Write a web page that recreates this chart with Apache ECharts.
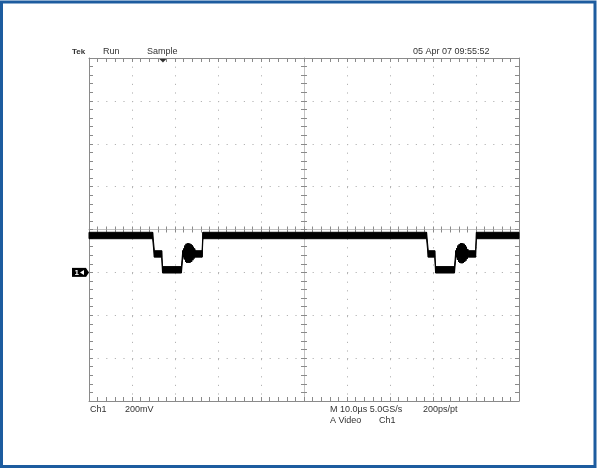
<!DOCTYPE html>
<html><head><meta charset="utf-8">
<script src="https://cdn.jsdelivr.net/npm/echarts@6/dist/echarts.min.js"></script>
<style>html,body{margin:0;padding:0;background:#fff}#c{width:597px;height:468px}</style>
</head><body><div id="c"></div>
<script>
// ---- data (time in microseconds, level in mV relative to Ch1 ground) ----
const timeUs = [
  0, 14.8, 15.2, 16.9, 17.1, 21.5, 21.8,
  21.90, 22.04, 22.18, 22.32, 22.46, 22.60, 22.74, 22.88, 23.02, 23.16, 23.30, 23.44, 23.58, 23.72, 23.86, 24.00, 24.14, 24.28, 24.42, 24.56, 24.70,
  24.8, 26.3, 26.5,
  78.5, 78.9, 80.4, 80.6, 85.0, 85.3,
  85.40, 85.54, 85.68, 85.82, 85.96, 86.10, 86.24, 86.38, 86.52, 86.66, 86.80, 86.94, 87.08, 87.22, 87.36, 87.50, 87.64, 87.78, 87.92, 88.06, 88.20,
  89.9, 90.1, 100
];
const levelMV = [
  172, 172, 86, 86, 12, 12, 86,
  86, 96, 76, 110, 65, 118, 60, 120, 60, 120, 60, 119, 62, 116, 64, 111, 72, 104, 80, 96, 86,
  86, 86, 172,
  172, 86, 86, 12, 12, 86,
  86, 98, 74, 110, 64, 116, 60, 120, 58, 122, 58, 120, 60, 118, 64, 112, 70, 104, 78, 94, 86,
  86, 172, 172
];
const headerLabels = ['Tek', 'Run', 'Sample', '05 Apr 07 09:55:52'];
const footerLabels = ['Ch1', '200mV', 'M 10.0\u00b5s 5.0GS/s', '200ps/pt', 'A Video', 'Ch1'];
const groundMV = 0;
const triggerUs = 17.2;
const xMinUs = 0, xMaxUs = 100, xStepUs = 10;
const yMinMV = -600, yMaxMV = 1000, yStepMV = 200;
const divX = [-5, 5], divY = [-4, 4];

// ---- chart ----
const traceHalf = 15; // visual trace thickness (mV)
const segments = [];
for (let i = 0; i < timeUs.length - 1; i++) {
  segments.push([timeUs[i], levelMV[i], timeUs[i + 1], levelMV[i + 1]]);
}

const chart = echarts.init(document.getElementById('c'), null, {renderer: 'canvas'});
const gridRect = {left: 89, top: 58, width: 430, height: 343};
const borderCol = '#8a8a8a';
const gridDot = {color: '#b4b4b4', width: 1, type: [1.2, 7.4]};

function borderX(pos, split) {
  return {
    type: 'value', gridIndex: 0, position: pos, min: xMinUs, max: xMaxUs, interval: xStepUs,
    axisLine: {show: true, onZero: false, lineStyle: {color: borderCol, width: 1}},
    axisTick: {show: true, inside: true, length: 4, lineStyle: {color: borderCol}},
    minorTick: {show: true, splitNumber: 5, length: 4, lineStyle: {color: borderCol}},
    axisLabel: {show: false}, splitLine: {show: split, lineStyle: gridDot}
  };
}
function borderY(pos, split) {
  return {
    type: 'value', gridIndex: 0, position: pos, min: yMinMV, max: yMaxMV, interval: yStepMV,
    axisLine: {show: true, onZero: false, lineStyle: {color: borderCol, width: 1}},
    axisTick: {show: true, inside: true, length: 4, lineStyle: {color: borderCol}},
    minorTick: {show: true, splitNumber: 5, length: 4, lineStyle: {color: borderCol}},
    axisLabel: {show: false}, splitLine: {show: split, lineStyle: gridDot}
  };
}
function centerX(g, inside) {
  return {
    type: 'value', gridIndex: g, min: divX[0], max: divX[1], interval: 0.2,
    axisLine: {show: true, onZero: true, lineStyle: {color: '#c4c4c4', width: 1}},
    axisTick: {show: true, inside: inside, length: 3, lineStyle: {color: borderCol}},
    axisLabel: {show: false}, splitLine: {show: false}
  };
}
function centerY(g, inside) {
  return {
    type: 'value', gridIndex: g, min: divY[0], max: divY[1], interval: 0.2,
    axisLine: {show: true, onZero: true, lineStyle: {color: '#c4c4c4', width: 1}},
    axisTick: {show: true, inside: inside, length: 3, lineStyle: {color: borderCol}},
    axisLabel: {show: false}, splitLine: {show: false}
  };
}

chart.setOption({
  animation: false,
  backgroundColor: '#ffffff',
  grid: [Object.assign({}, gridRect), Object.assign({}, gridRect), Object.assign({}, gridRect)],
  xAxis: [borderX('bottom', true), borderX('top', false), centerX(1, false), centerX(2, true)],
  yAxis: [borderY('left', true), borderY('right', false), centerY(1, false), centerY(2, true)],
  series: [{
    type: 'custom', coordinateSystem: 'cartesian2d', xAxisIndex: 0, yAxisIndex: 0,
    data: segments, encode: {x: [0, 2], y: [1, 3]}, z: 5,
    renderItem: function (params, api) {
      const t0 = api.value(0), v0 = api.value(1), t1 = api.value(2), v1 = api.value(3);
      const pts = [
        api.coord([t0, v0 - traceHalf]), api.coord([t1, v1 - traceHalf]),
        api.coord([t1, v1 + traceHalf]), api.coord([t0, v0 + traceHalf])
      ];
      return {type: 'polygon', shape: {points: pts}, style: {fill: '#000', stroke: '#000', lineWidth: 1}};
    }
  }]
});

const gY = chart.convertToPixel({xAxisIndex: 0, yAxisIndex: 0}, [0, groundMV])[1];
const trX = chart.convertToPixel({xAxisIndex: 0, yAxisIndex: 0}, [triggerUs, 0])[0];
const font = '9px "Liberation Sans", Arial, sans-serif';
const txtCol = '#333333';
function txt(s, x, y, extra) {
  return {type: 'text', style: Object.assign({text: s, x: x, y: y, font: font, fill: txtCol, textVerticalAlign: 'middle'}, extra || {}), z: 10};
}
chart.setOption({
  graphic: [
    {type: 'rect', shape: {x: 1.5, y: 2, width: 593.5, height: 464.5}, style: {fill: 'none', stroke: '#1d5c9f', lineWidth: 3}, z: 20},
    txt(headerLabels[0], 72, 52, {font: 'bold 8px "Liberation Sans", Arial, sans-serif'}),
    txt(headerLabels[1], 103, 52),
    txt(headerLabels[2], 147, 52),
    txt(headerLabels[3], 413, 52),
    txt(footerLabels[0], 90, 410),
    txt(footerLabels[1], 125, 410),
    txt(footerLabels[2], 330, 410),
    txt(footerLabels[3], 423, 410),
    txt(footerLabels[4], 330, 421),
    txt(footerLabels[5], 379, 421),
    {type: 'polygon', shape: {points: [[trX - 3.5, 59], [trX + 3.5, 59], [trX, 62.5]]}, style: {fill: '#333'}, z: 10},
    {type: 'rect', shape: {x: 72, y: gY - 4.5, width: 14, height: 9}, style: {fill: '#000'}, z: 10},
    {type: 'polygon', shape: {points: [[86, gY - 4.5], [89, gY], [86, gY + 4.5]]}, style: {fill: '#000'}, z: 10},
    txt('1', 74.5, gY, {font: 'bold 8px "Liberation Sans", Arial, sans-serif', fill: '#fff'}),
    {type: 'polygon', shape: {points: [[84, gY - 2.5], [80, gY], [84, gY + 2.5]]}, style: {fill: '#fff'}, z: 11}
  ]
});
</script></body></html>
